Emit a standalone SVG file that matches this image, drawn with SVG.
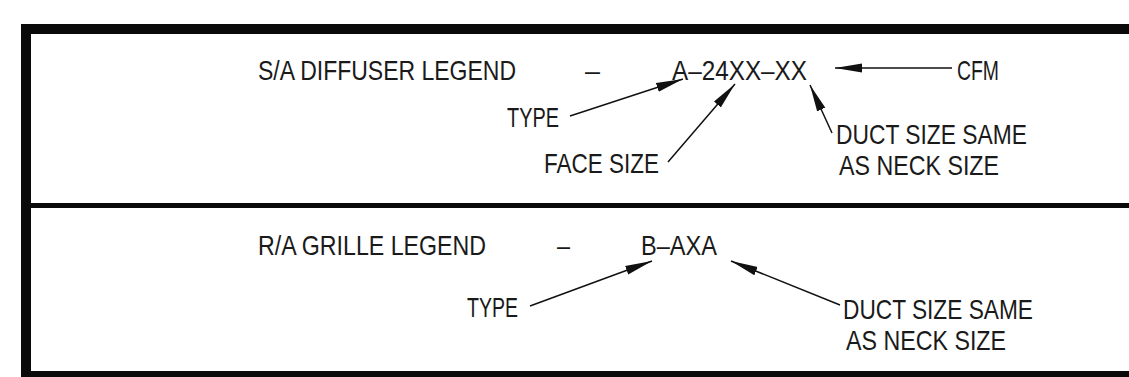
<svg xmlns="http://www.w3.org/2000/svg" width="1129" height="377" viewBox="0 0 1129 377">
<defs>
<style>
text{font-family:"Liberation Sans",Arial,sans-serif;font-size:28px;fill:#1a1a1a;}
.ld{stroke:#111;stroke-width:1.5;fill:none;marker-end:url(#ah);}
.fr{fill:#0a0a0a;}
</style>
<marker id="ah" markerUnits="userSpaceOnUse" markerWidth="28" markerHeight="10" refX="27" refY="4.5" orient="auto" viewBox="0 0 28 9">
<path d="M0,0 L27,4.5 L0,9 z" fill="#111"/>
</marker>
</defs>
<rect width="1129" height="377" fill="#fff"/>
<g id="frame">
<rect class="fr" x="21" y="24" width="1108" height="10"/>
<rect class="fr" x="21" y="24" width="10" height="353"/>
<rect class="fr" x="31" y="203" width="1098" height="5"/>
<rect class="fr" x="21" y="371" width="1108" height="6"/>
</g>
<g id="sa-legend">
<text x="258" y="80" textLength="258" lengthAdjust="spacingAndGlyphs">S/A DIFFUSER LEGEND</text>
<text x="585" y="80" textLength="15" lengthAdjust="spacingAndGlyphs">–</text>
<text x="672" y="80" textLength="135" lengthAdjust="spacingAndGlyphs">A–24XX–XX</text>
<text x="957" y="80" textLength="42" lengthAdjust="spacingAndGlyphs">CFM</text>
<text x="507" y="127" textLength="52" lengthAdjust="spacingAndGlyphs">TYPE</text>
<text x="544" y="173" textLength="115" lengthAdjust="spacingAndGlyphs">FACE SIZE</text>
<text x="836" y="144" textLength="191" lengthAdjust="spacingAndGlyphs">DUCT SIZE SAME</text>
<text x="839" y="175" textLength="160" lengthAdjust="spacingAndGlyphs">AS NECK SIZE</text>
</g>
<g id="ra-legend">
<text x="258" y="255" textLength="228" lengthAdjust="spacingAndGlyphs">R/A GRILLE LEGEND</text>
<text x="557" y="255" textLength="13" lengthAdjust="spacingAndGlyphs">–</text>
<text x="641" y="255" textLength="76" lengthAdjust="spacingAndGlyphs">B–AXA</text>
<text x="467" y="317" textLength="51" lengthAdjust="spacingAndGlyphs">TYPE</text>
<text x="843" y="319" textLength="190" lengthAdjust="spacingAndGlyphs">DUCT SIZE SAME</text>
<text x="846" y="350" textLength="160" lengthAdjust="spacingAndGlyphs">AS NECK SIZE</text>
</g>
<g id="connectors">
<line class="ld" x1="952" y1="68" x2="835" y2="68"/>
<line class="ld" x1="570" y1="116" x2="683" y2="79"/>
<line class="ld" x1="668" y1="162" x2="735" y2="84"/>
<line class="ld" x1="832" y1="133" x2="810" y2="85"/>
<line class="ld" x1="530" y1="306" x2="652" y2="261"/>
<line class="ld" x1="840" y1="305" x2="731" y2="261"/>
</g>
</svg>
